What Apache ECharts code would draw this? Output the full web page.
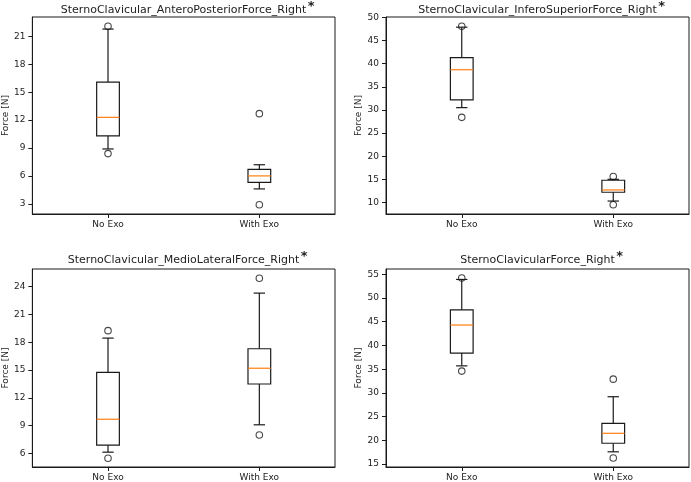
<!DOCTYPE html>
<html>
<head>
<meta charset="utf-8">
<script src="https://cdn.jsdelivr.net/npm/echarts@6/dist/echarts.min.js"></script>
<style>
html,body{margin:0;padding:0;background:#fff;}
#chart{width:691px;height:482px;}
</style>
</head>
<body>
<div id="chart"></div>
<script>
// ---- data ----
const categories = ['No Exo', 'With Exo'];
const titles = [
  'SternoClavicular_AnteroPosteriorForce_Right',
  'SternoClavicular_InferoSuperiorForce_Right',
  'SternoClavicular_MedioLateralForce_Right',
  'SternoClavicularForce_Right'
];
// box stats: [lower whisker, Q1, median, Q3, upper whisker]
const apNoExo = [8.9, 10.3, 12.3, 16.1, 21.8];
const apWithExo = [4.6, 5.3, 6.0, 6.7, 7.2];
const apNoExoOut = [22.1, 8.4];
const apWithExoOut = [12.7, 2.9];
const apTicks = [3, 6, 9, 12, 15, 18, 21];

const isNoExo = [30.5, 32.2, 38.7, 41.3, 47.9];
const isWithExo = [10.3, 12.2, 12.7, 14.8, 15.0];
const isNoExoOut = [48.1, 28.4];
const isWithExoOut = [15.6, 9.5];
const isTicks = [10, 15, 20, 25, 30, 35, 40, 45, 50];

const mlNoExo = [6.15, 6.9, 9.7, 14.75, 18.45];
const mlWithExo = [9.1, 13.5, 15.2, 17.3, 23.3];
const mlNoExoOut = [19.25, 5.5];
const mlWithExoOut = [24.9, 8.0];
const mlTicks = [6, 9, 12, 15, 18, 21, 24];

const scNoExo = [35.7, 38.4, 44.3, 47.5, 53.9];
const scWithExo = [17.6, 19.4, 21.5, 23.6, 29.2];
const scNoExoOut = [54.2, 34.6];
const scWithExoOut = [32.9, 16.3];
const scTicks = [15, 20, 25, 30, 35, 40, 45, 50, 55];

const yLimits = [[1.9, 23.1], [7.5, 50.1], [4.55, 25.9], [14.4, 56.1]];

// ---- layout ----
const grids = [
  {left: 32, top: 17, width: 303, height: 197},
  {left: 386, top: 17, width: 303, height: 197},
  {left: 32, top: 269, width: 303, height: 198},
  {left: 386, top: 269, width: 303, height: 198}
];
const titleY = [10, 10, 260, 260];

const panels = [
  {boxes: [apNoExo, apWithExo], outs: [apNoExoOut, apWithExoOut], ticks: apTicks},
  {boxes: [isNoExo, isWithExo], outs: [isNoExoOut, isWithExoOut], ticks: isTicks},
  {boxes: [mlNoExo, mlWithExo], outs: [mlNoExoOut, mlWithExoOut], ticks: mlTicks},
  {boxes: [scNoExo, scWithExo], outs: [scNoExoOut, scWithExoOut], ticks: scTicks}
];

const FONT = 'DejaVu Sans';
const LINE = '#1a1a1a';
const TXT = '#222';

function renderBox(params, api) {
  const c = api.value(0);
  const p = k => api.coord([c, api.value(k)]);
  const lw = p(1), q1 = p(2), md = p(3), q3 = p(4), uw = p(5);
  const bw = api.size([1, 0])[0] * 0.15;
  const half = bw / 2, cap = bw / 4;
  const x = lw[0];
  const st = {stroke: LINE, lineWidth: 1.2, fill: null};
  return {
    type: 'group',
    children: [
      {type: 'line', shape: {x1: x, y1: q3[1], x2: x, y2: uw[1]}, style: st},
      {type: 'line', shape: {x1: x, y1: q1[1], x2: x, y2: lw[1]}, style: st},
      {type: 'line', shape: {x1: x - cap, y1: uw[1], x2: x + cap, y2: uw[1]}, style: st},
      {type: 'line', shape: {x1: x - cap, y1: lw[1], x2: x + cap, y2: lw[1]}, style: st},
      {type: 'rect', shape: {x: x - half, y: q3[1], width: bw, height: q1[1] - q3[1]},
        style: {stroke: LINE, lineWidth: 1.2, fill: 'rgba(0,0,0,0)'}},
      {type: 'line', shape: {x1: x - half, y1: md[1], x2: x + half, y2: md[1]},
        style: {stroke: '#ff7f0e', lineWidth: 1.2}}
    ]
  };
}

const ctx = document.createElement('canvas').getContext('2d');
ctx.font = '11px "' + FONT + '"';

const xAxes = [], yAxes = [], series = [], graphics = [];
panels.forEach((pn, i) => {
  xAxes.push({
    type: 'category', gridIndex: i, data: categories,
    axisLine: {show: true, lineStyle: {color: LINE, width: 1}},
    axisTick: {show: true, alignWithLabel: true, length: 4, lineStyle: {color: LINE}},
    axisLabel: {color: TXT, fontFamily: FONT, fontSize: 9, margin: 6},
    splitLine: {show: false}
  });
  yAxes.push({
    type: 'value', gridIndex: i, min: yLimits[i][0], max: yLimits[i][1],
    name: 'Force [N]', nameLocation: 'middle', nameGap: 21,
    nameTextStyle: {color: TXT, fontFamily: FONT, fontSize: 9},
    axisLine: {show: true, lineStyle: {color: LINE, width: 1}},
    axisTick: {show: true, length: 4, customValues: pn.ticks, lineStyle: {color: LINE}},
    axisLabel: {color: TXT, fontFamily: FONT, fontSize: 9, margin: 7, customValues: pn.ticks},
    splitLine: {show: false}
  });
  series.push({
    type: 'custom', xAxisIndex: i, yAxisIndex: i,
    data: pn.boxes.map((b, j) => [j].concat(b)),
    encode: {x: 0, y: [1, 2, 3, 4, 5]},
    renderItem: renderBox, silent: true, z: 2
  });
  const outData = [];
  pn.outs.forEach((arr, j) => arr.forEach(v => outData.push([j, v])));
  series.push({
    type: 'scatter', xAxisIndex: i, yAxisIndex: i, data: outData,
    symbol: 'circle', symbolSize: 6.5, silent: true, z: 3,
    itemStyle: {color: 'rgba(0,0,0,0)', borderColor: LINE, borderWidth: 1.1}
  });
  const g = grids[i];
  const cx = g.left + g.width / 2;
  const w = ctx.measureText(titles[i]).width;
  graphics.push({
    type: 'text', x: cx, y: titleY[i],
    style: {text: titles[i], font: '11px "' + FONT + '"', fill: TXT, textAlign: 'center', textVerticalAlign: 'middle'}
  });
  graphics.push({
    type: 'text', x: cx + w / 2 + 1.5, y: titleY[i] - 10,
    style: {text: '*', font: 'bold 13px "' + FONT + '"', fill: TXT, textAlign: 'left', textVerticalAlign: 'top'}
  });
});

const chart = echarts.init(document.getElementById('chart'), null, {renderer: 'canvas'});
chart.setOption({
  animation: false,
  backgroundColor: '#fff',
  grid: grids.map(g => Object.assign({show: true, borderColor: LINE, borderWidth: 1, backgroundColor: 'transparent'}, g)),
  xAxis: xAxes,
  yAxis: yAxes,
  series: series,
  graphic: graphics
});
</script>
</body>
</html>
